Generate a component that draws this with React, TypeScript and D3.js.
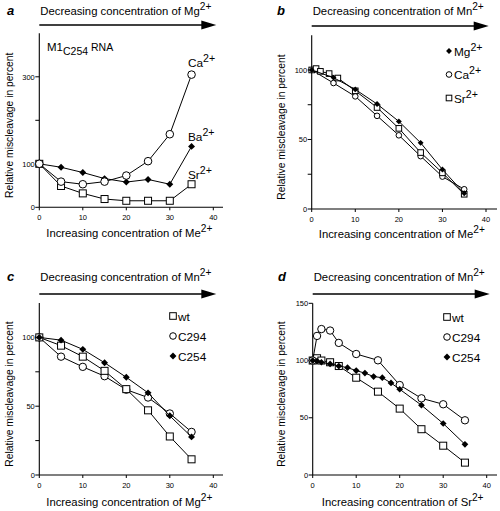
import React from 'react';
import * as d3 from 'd3';

// ---------- data ----------
const xTickValues = [0, 10, 20, 30, 40];

// panel a
const aX = [0, 5, 10, 15, 20, 25, 30, 35];
const aCa = [100, 59, 53, 59, 73, 106, 168, 305];
const aBa = [100, 92, 80, 66, 58, 64, 53, 140];
const aSr = [100, 49, 32, 19, 15, 15, 15, 53];

// panel b
const bMgX = [0, 5, 10, 15, 20, 25, 30, 35];
const bMg = [100, 94.5, 86, 75.5, 63, 47.6, 28.4, 11.3];
const bCaX = [0, 5, 10, 15, 20, 25, 30, 35];
const bCa = [100, 90.6, 81, 67, 53, 38, 23.3, 14.2];
const bSrX = [0, 1, 2, 4, 6, 10, 15, 20, 25, 30, 35];
const bSr = [100, 101, 99, 97.4, 94.2, 85, 73, 58, 40.6, 26, 10.6];

// panel c
const cX = [0, 5, 10, 15, 20, 25, 30, 35];
const cWt = [100, 94, 86, 75.7, 62.4, 47, 28, 11.4];
const cC294 = [100, 86, 78.6, 71.8, 62, 56.3, 44.7, 31.3];
const cC254 = [100, 98, 91.3, 81.6, 71, 59.7, 43, 27.7];

// panel d
const dWtX = [0, 1, 2, 4, 6, 10, 15, 20, 25, 30, 35];
const dWt = [100, 102, 100, 98.5, 95.2, 85, 72.8, 58, 40, 25.6, 10.8];
const dC294X = [0, 1, 2, 4, 6, 10, 15, 20, 25, 30, 35];
const dC294 = [100, 121.5, 127.5, 126.2, 115.4, 105.7, 100.2, 78.6, 67, 61.8, 47.8];
const dC254X = [0, 1, 2, 4, 6, 8, 10, 12, 14, 16, 18, 20, 25, 30, 35];
const dC254 = [100, 99.5, 98.5, 97, 95.2, 93.8, 91.2, 89, 86, 85, 80.4, 74.9, 61, 45, 26.8];

const FONT = '"Liberation Sans", Arial, Helvetica, sans-serif';
const LAB = 11.3;

type Shape = 'circle' | 'square' | 'diamond';

function Marker({ shape, cx, cy, s }: { shape: Shape; cx: number; cy: number; s: number }) {
  if (shape === 'circle')
    return <circle cx={cx} cy={cy} r={s} fill="#fff" stroke="#000" strokeWidth={1} />;
  if (shape === 'square')
    return <rect x={cx - s} y={cy - s} width={2 * s} height={2 * s} fill="#fff" stroke="#000" strokeWidth={1} />;
  const d = s * 1.05;
  return <path d={`M${cx},${cy - d}L${cx + d},${cy}L${cx},${cy + d}L${cx - d},${cy}Z`} fill="#000" />;
}

function Series({ xs, ys, x, y, shape, s }: any) {
  const pts: [number, number][] = xs.map((v: number, i: number) => [x(v), y(ys[i])]);
  const line = d3.line();
  return (
    <g>
      <path d={line(pts) || ''} fill="none" stroke="#000" strokeWidth={1} />
      {pts.map((p, i) => (
        <Marker key={i} shape={shape} cx={p[0]} cy={p[1]} s={s} />
      ))}
    </g>
  );
}

function SupText({ x, y, base, sup, size, anchor }: any) {
  return (
    <text x={x} y={y} fontSize={size} fontFamily={FONT} textAnchor={anchor || 'start'}>
      <tspan>{base}</tspan>
      <tspan dy={-size * 0.42} fontSize={size * 0.9}>{sup}</tspan>
    </text>
  );
}

function Panel(props: any) {
  const { letter, x, y, yTicks, yLabels, xAxisEnd, yTop, title, titleSup, xlab, xlabSup, arrowY, titleY, xlabY, ylabX, children } = props;
  const [x0, x1] = x.range();
  const [y0] = y.range();
  return (
    <g>
      <text x={props.letterX} y={titleY} fontSize={13} fontWeight="bold" fontStyle="italic" fontFamily={FONT}>{letter}</text>
      <SupText x={x0 + 1} y={titleY} base={title} sup={titleSup} size={LAB} />
      <line x1={x0} x2={x0 + 164} y1={arrowY} y2={arrowY} stroke="#000" strokeWidth={1.3} />
      <path d={`M${x0 + 162},${arrowY - 4.5}L${x0 + 177},${arrowY}L${x0 + 162},${arrowY + 4.5}Z`} fill="#000" />
      {/* axes */}
      <line x1={x0} x2={xAxisEnd} y1={y0} y2={y0} stroke="#000" strokeWidth={1.1} />
      <line x1={x0} x2={x0} y1={y0} y2={yTop} stroke="#000" strokeWidth={1.1} />
      {xTickValues.map((t) => (
        <g key={'x' + t}>
          <line x1={x(t)} x2={x(t)} y1={y0} y2={y0 + 3} stroke="#000" strokeWidth={1} />
          <text x={x(t)} y={y0 + 13} fontSize={7.5} fontFamily={FONT} textAnchor="middle">{t}</text>
        </g>
      ))}
      {yTicks.map((t: number) => (
        <g key={'y' + t}>
          <line x1={x0 - 4} x2={x0} y1={y(t)} y2={y(t)} stroke="#000" strokeWidth={1} />
          {yLabels.includes(t) && (
            <text x={x0 - 4.5} y={y(t) + 2.7} fontSize={7.5} fontFamily={FONT} textAnchor="end">{t}</text>
          )}
        </g>
      ))}
      <SupText x={(x0 + x1) / 2 + 3} y={xlabY} base={xlab} sup={xlabSup} size={LAB} anchor="middle" />
      <text
        transform={`translate(${ylabX},${(y0 + yTop) / 2 + 5}) rotate(-90)`}
        fontSize={10.3}
        fontFamily={FONT}
        textAnchor="middle"
      >
        Relative miscleavage in percent
      </text>
      {children}
    </g>
  );
}

function Legend({ items, x, y, gap, s }: any) {
  return (
    <g>
      {items.map((it: any, i: number) => (
        <g key={i}>
          <Marker shape={it.shape} cx={x} cy={y + i * gap} s={s} />
          <SupText x={x + 5} y={y + i * gap + 4.5} base={it.label} sup={it.sup || ''} size={11.8} />
        </g>
      ))}
    </g>
  );
}

export default function App() {
  const ax = d3.scaleLinear().domain([0, 40]).range([39.3, 213.3]);
  const ay = d3.scaleLinear().domain([0, 400]).range([207.3, 33.3]);
  const bx = d3.scaleLinear().domain([0, 40]).range([311.7, 486]);
  const by = d3.scaleLinear().domain([0, 125]).range([209, 35.2]);
  const cx = d3.scaleLinear().domain([0, 40]).range([39.3, 213.3]);
  const cy = d3.scaleLinear().domain([0, 125]).range([475, 303]);
  const dx = d3.scaleLinear().domain([0, 40]).range([312.7, 486.7]);
  const dy = d3.scaleLinear().domain([0, 150]).range([475, 303.3]);

  return (
    <svg width={500} height={511} style={{ position: 'absolute', left: 0, top: 0, background: '#fff' }}>
      <rect width={500} height={511} fill="#fff" />
      {/* a */}
      <Panel letter="a" letterX={7} x={ax} y={ay} yTicks={[0, 100, 200, 300]} yLabels={[0, 100, 300]} xAxisEnd={223} yTop={33.3}
        title="Decreasing concentration of Mg" titleSup="2+" xlab="Increasing concentration of Me" xlabSup="2+"
        arrowY={25} titleY={14.5} xlabY={236.5} ylabX={13}>
        <text x={47} y={51} fontSize={11.5} fontFamily={FONT}>
          <tspan>M1</tspan><tspan dy={4} fontSize={10.5}>C254</tspan><tspan dy={-4} fontSize={10.5}> RNA</tspan>
        </text>
        <Series xs={aX} ys={aSr} x={ax} y={ay} shape="square" s={3.5} />
        <Series xs={aX} ys={aBa} x={ax} y={ay} shape="diamond" s={3.3} />
        <Series xs={aX} ys={aCa} x={ax} y={ay} shape="circle" s={3.8} />
        <SupText x={188} y={67} base="Ca" sup="2+" size={11.8} />
        <SupText x={188} y={141} base="Ba" sup="2+" size={11.8} />
        <SupText x={188} y={179} base="Sr" sup="2+" size={11.8} />
      </Panel>
      {/* b */}
      <Panel letter="b" letterX={277} x={bx} y={by} yTicks={[0, 25, 50, 75, 100]} yLabels={[0, 50, 100]} xAxisEnd={497} yTop={35.2}
        title="Decreasing concentration of Mn" titleSup="2+" xlab="Increasing concentration of Me" xlabSup="2+"
        arrowY={26} titleY={14.5} xlabY={238} ylabX={285}>
        <Series xs={bCaX} ys={bCa} x={bx} y={by} shape="circle" s={2.8} />
        <Series xs={bSrX} ys={bSr} x={bx} y={by} shape="square" s={2.8} />
        <Series xs={bMgX} ys={bMg} x={bx} y={by} shape="diamond" s={2.8} />
        <Legend x={449} y={51} gap={23.5} s={2.8}
          items={[{ shape: 'diamond', label: 'Mg', sup: '2+' }, { shape: 'circle', label: 'Ca', sup: '2+' }, { shape: 'square', label: 'Sr', sup: '2+' }]} />
      </Panel>
      {/* c */}
      <Panel letter="c" letterX={7} x={cx} y={cy} yTicks={[0, 25, 50, 75, 100]} yLabels={[0, 50, 100]} xAxisEnd={223} yTop={303}
        title="Decreasing concentration of Mn" titleSup="2+" xlab="Increasing concentration of Mg" xlabSup="2+"
        arrowY={294} titleY={281} xlabY={506} ylabX={13}>
        <Series xs={cX} ys={cC294} x={cx} y={cy} shape="circle" s={3.7} />
        <Series xs={cX} ys={cWt} x={cx} y={cy} shape="square" s={3.5} />
        <Series xs={cX} ys={cC254} x={cx} y={cy} shape="diamond" s={3.3} />
        <Legend x={173} y={316} gap={20} s={3.3}
          items={[{ shape: 'square', label: 'wt' }, { shape: 'circle', label: 'C294' }, { shape: 'diamond', label: 'C254' }]} />
      </Panel>
      {/* d */}
      <Panel letter="d" letterX={278} x={dx} y={dy} yTicks={[0, 50, 100, 150]} yLabels={[0, 50, 100, 150]} xAxisEnd={497} yTop={303.3}
        title="Decreasing concentration of Mn" titleSup="2+" xlab="Increasing concentration of Sr" xlabSup="2+"
        arrowY={294} titleY={281} xlabY={506} ylabX={285}>
        <Series xs={dWtX} ys={dWt} x={dx} y={dy} shape="square" s={3.5} />
        <Series xs={dC294X} ys={dC294} x={dx} y={dy} shape="circle" s={3.7} />
        <Series xs={dC254X} ys={dC254} x={dx} y={dy} shape="diamond" s={3.2} />
        <Legend x={447} y={317} gap={20} s={3.3}
          items={[{ shape: 'square', label: 'wt' }, { shape: 'circle', label: 'C294' }, { shape: 'diamond', label: 'C254' }]} />
      </Panel>
    </svg>
  );
}
